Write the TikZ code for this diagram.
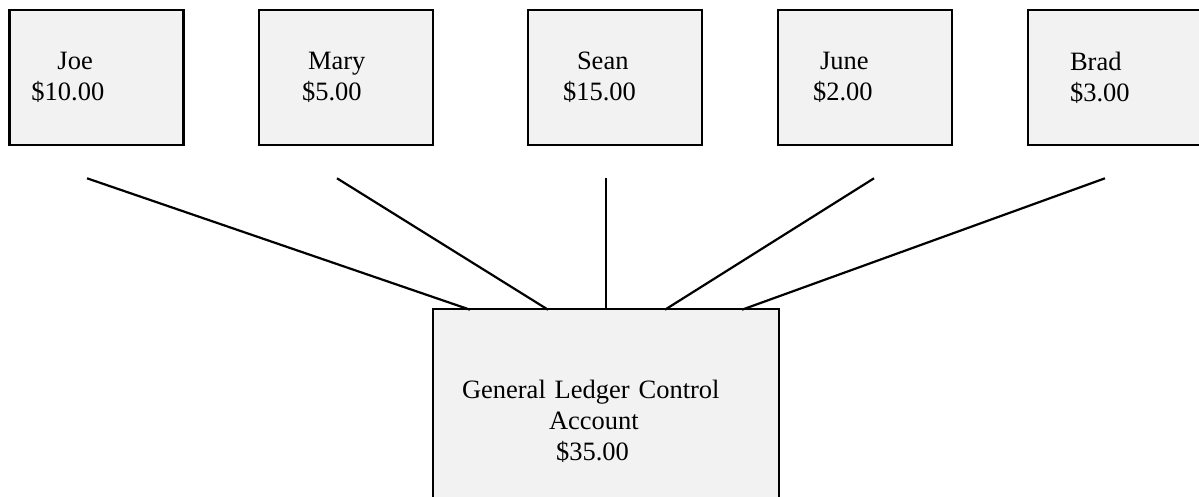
\documentclass[tikz,border=0pt]{standalone}
\usepackage{fontspec}
\setmainfont{Liberation Serif}
\usetikzlibrary{calc}
\definecolor{boxfill}{HTML}{F2F2F2}

\begin{document}
\begin{tikzpicture}[x=0.5pt, y=-0.5pt,
    every node/.style={font=\fontsize{13.25}{15.5}\selectfont},
    acct/.style={draw, line width=1.3pt, fill=boxfill, text width=87pt,
                 minimum height=67.5pt, inner sep=0pt, align=left},
    ledger/.style={acct, text width=173pt, minimum height=112pt},
    link/.style={line width=1.1pt}
]
    \clip (0,0) rectangle (1199,497);
    \node[acct] (joe)  at (96.5,77.5) {\hspace*{24pt}Joe\\\hspace*{11pt}\$10.00};
    \node[acct] (mary) at (346,77.5)  {\hspace*{24.5pt}Mary\\\hspace*{21.5pt}\$5.00};
    \node[acct] (sean) at (615,77.5)  {\hspace*{24.5pt}Sean\\\hspace*{17.5pt}\$15.00};
    \node[acct] (june) at (865,77.5)  {\hspace*{21pt}June\\\hspace*{17.5pt}\$2.00};
    \node[acct, text width=90pt] (brad) at (1118,77.5)
        {\hspace*{21pt}Brad\\\hspace*{21pt}\$3.00};
    \node[ledger] (gl) at (606,421)
        {\hspace*{14.5pt}General Ledger Control\\
         \hspace*{58pt}Account\\
         \hspace*{61.5pt}\$35.00};

    \draw[link] ($(joe.south)+(-9.5,32)$) -- ($(gl.north)+(-136,2)$);
    \draw[link] ($(mary.south)+(-9,32)$)  -- ($(gl.north)+(-58,2)$);
    \draw[link] ($(sean.south)+(-9,32)$)  -- ($(gl.north)+(0,2)$);
    \draw[link] ($(june.south)+(9,32)$)   -- ($(gl.north)+(59,2)$);
    \draw[link] ($(brad.south)+(-13,32)$) -- ($(gl.north)+(136,2)$);
\end{tikzpicture}
\end{document}
